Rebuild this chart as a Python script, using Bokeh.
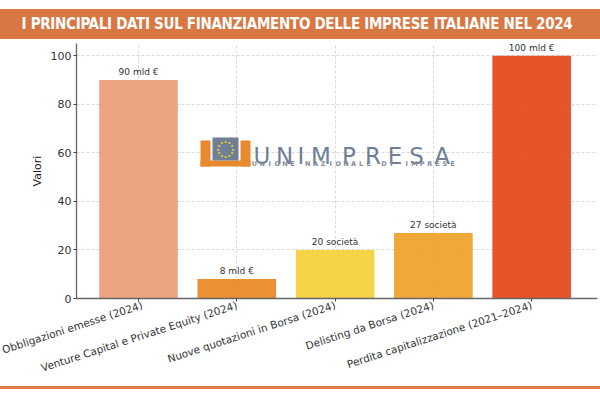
from bokeh.plotting import figure
from bokeh.models import Range1d, FixedTicker, Label, ColumnDataSource, BoxAnnotation, Div
from bokeh.core.properties import value
from bokeh.layouts import column
from bokeh.embed import file_html
from bokeh.resources import INLINE
import math

categories = ["Obbligazioni emesse (2024)", "Venture Capital e Private Equity (2024)",
              "Nuove quotazioni in Borsa (2024)", "Delisting da Borsa (2024)",
              "Perdita capitalizzazione (2021–2024)"]
values = [90, 8, 20, 27, 100]
value_labels = ["90 mld €", "8 mld €", "20 società", "27 società", "100 mld €"]
colors = ["#EB9A74", "#E9841F", "#F4D033", "#EE9E26", "#E54112"]
y_ticks = [0, 20, 40, 60, 80, 100]
title_text = "I PRINCIPALI DATI SUL FINANZIAMENTO DELLE IMPRESE ITALIANE NEL 2024"

W = 600

# title band (HTML)
title_html = (
    '<div style="margin-top:9px;width:600px;height:30px;background:#D97742;'
    'display:flex;justify-content:center;align-items:center;">'
    '<span style="white-space:nowrap;color:white;'
    "font-family:'Liberation Sans Narrow','DejaVu Sans Condensed','DejaVu Sans',sans-serif;"
    'font-weight:bold;font-size:15px;letter-spacing:-0.3px;line-height:30px;'
    'margin-left:-6px;">' + title_text + '</span></div>'
)
t = Div(text=title_html, width=W, height=39, margin=(0, 0, 0, 0),
        styles={"padding": "0", "margin": "0"})

# main chart
xs = list(range(len(categories)))
src = ColumnDataSource(dict(x=xs, top=values, color=colors, lab=value_labels))

p = figure(width=W, height=347, output_backend="svg", toolbar_location=None,
           x_range=Range1d(-0.631, 4.67), y_range=Range1d(0, 105),
           min_border_left=76, min_border_right=3, min_border_top=4, min_border_bottom=88)
p.outline_line_color = None

p.vbar(x="x", top="top", width=0.8, fill_color="color", line_color=None, fill_alpha=0.9, source=src)
p.text(x="x", y="top", text="lab", source=src, text_align="center", text_baseline="bottom",
       y_offset=-3, text_font_size="9px", text_color="#333333", text_font=value("DejaVu Sans"))

for g in (p.xgrid[0], p.ygrid[0]):
    g.grid_line_color = "#b0b0b0"
    g.grid_line_alpha = 0.6
    g.grid_line_dash = "3 2"
    g.grid_line_width = 0.8

p.xaxis.ticker = FixedTicker(ticks=xs)
p.xaxis.major_label_overrides = {i: c for i, c in enumerate(categories)}
p.xaxis.major_label_orientation = math.radians(18)
p.yaxis.ticker = FixedTicker(ticks=y_ticks)
p.yaxis.axis_label = "Valori"

for ax in (p.xaxis[0], p.yaxis[0]):
    ax.axis_line_color = "#666666"
    ax.axis_line_width = 1.3
    ax.major_tick_line_color = "#444444"
    ax.major_tick_out = 3
    ax.major_tick_in = 0
    ax.minor_tick_line_color = None
    ax.major_label_text_font = "DejaVu Sans"
    ax.major_label_text_color = "#333333"
    ax.axis_label_text_font = "DejaVu Sans"
    ax.axis_label_text_font_style = "normal"
    ax.axis_label_text_font_size = "11px"
    ax.axis_label_text_color = "#222222"
p.yaxis.major_label_text_font_size = "11px"
p.xaxis.major_label_text_font_size = "10.5px"
p.yaxis.axis_label_standoff = 4
p.yaxis.major_label_standoff = 2
p.xaxis.major_label_standoff = 3

# --- logo (decoration), screen units relative to the frame (x from left, y from bottom)
FL, FB = 76, 298
def sx(px): return px - FL
def sy(py): return FB - py

def box(l, r, tp, b, color):
    p.add_layout(BoxAnnotation(left=sx(l), right=sx(r), top=sy(tp), bottom=sy(b),
                               left_units="screen", right_units="screen",
                               top_units="screen", bottom_units="screen",
                               fill_color=color, fill_alpha=1, line_color=None, level="overlay"))

box(200, 210, 140, 166, "#E8892E")
box(240, 250, 140, 166, "#E8892E")
box(200, 250, 160, 166, "#E8892E")
box(212, 238, 137, 160, "#6F7F96")
for k in range(12):
    a = 2 * math.pi * k / 12
    p.add_layout(Label(x=sx(225 + 7.5 * math.cos(a)), y=sy(148.5 + 7.5 * math.sin(a)),
                       x_units="screen", y_units="screen", text="•", text_color="#F2D21B",
                       text_font_size="7px", text_align="center", text_baseline="middle",
                       level="overlay"))

word = "UNIMPRESA"
centers = [261.5, 284, 300.5, 320.5, 348.5, 372.5, 394.5, 416, 441.5]
for c, cx in zip(word, centers):
    p.add_layout(Label(x=sx(cx), y=sy(155.5), x_units="screen", y_units="screen", text=c,
                       text_color="#6F7F96", text_font="DejaVu Sans", text_font_size="23px",
                       text_align="center", text_baseline="alphabetic", level="overlay"))

sub = "UNIONE NAZIONALE DI IMPRESE"
step = (452 - 254) / (len(sub) - 1)
for i, c in enumerate(sub):
    if c == " ":
        continue
    p.add_layout(Label(x=sx(254 + i * step), y=sy(163.5), x_units="screen", y_units="screen", text=c,
                       text_color="#7F8A99", text_font="DejaVu Sans", text_font_style="bold",
                       text_font_size="6.5px", text_align="center", text_baseline="middle",
                       level="overlay"))

# bottom rule (HTML)
b = Div(text="", width=W, height=3, margin=(0, 0, 0, 0),
        styles={"padding": "0", "margin": "0", "background-color": "#E07A3F"})

layout = column(t, p, b, spacing=0)
open("out.html", "w").write(file_html(layout, INLINE))
